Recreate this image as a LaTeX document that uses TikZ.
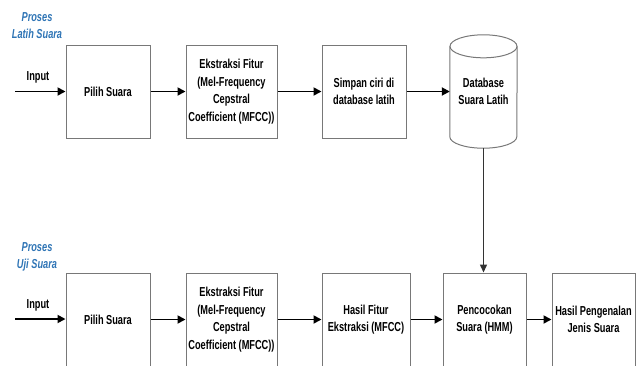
\documentclass[tikz,border=0pt]{standalone}
\usepackage{fontspec}
\setmainfont{Liberation Sans}[FakeStretch=0.71]
\usetikzlibrary{arrows.meta}
\definecolor{procblue}{RGB}{46,116,181}
\definecolor{edgegray}{RGB}{120,120,120}
\tikzset{
  boxfont/.style={font=\fontsize{13}{17.5}\selectfont\bfseries},
  block/.style={draw=edgegray, line width=1pt, fill=white, rectangle,
    minimum height=93pt, align=center, inner sep=2pt, boxfont},
  flow/.style={line width=1.8pt, -{Triangle[length=8pt,width=8pt]}},
  feed/.style={draw=black!80, line width=1.4pt, -{Triangle[length=8pt,width=7pt]}},
  plabel/.style={text=procblue, font=\fontsize{13}{17.5}\selectfont\bfseries\itshape, align=center},
  inlabel/.style={boxfont}
}
\begin{document}
\begin{tikzpicture}[x=1pt,y=-1pt]
  \useasboundingbox (0,0) rectangle (640,365);
  \clip (0,0) rectangle (640,365);

  % training process (top row)
  \node[plabel] (ptrain) at (37,25.5) {Proses\\Latih Suara};
  \node[inlabel] (intrain) at (38,77) {Input};
  \coordinate (srctrain) at (15,91.5);
  \node[block, minimum width=84pt] (pilih1) at (108,91.5) {Pilih Suara};
  \node[block, minimum width=91pt] (mfcc1) at (231.5,91.5)
    {Ekstraksi Fitur\\(Mel-Frequency\\Cepstral\\Coefficient (MFCC))};
  \node[block, minimum width=84pt] (simpan) at (364,91.5) {Simpan ciri di\\database latih};
  \node[minimum width=67pt, minimum height=113pt, inner sep=0pt, align=center,
        boxfont] (db) at (483.5,91.5)
    {Database\\Suara Latih};
  % cylinder outline of the database
  \draw[draw=edgegray, line width=1pt]
    ([yshift=-11.5pt]db.north west) -- ([yshift=11.5pt]db.south west)
    arc[start angle=180, end angle=360, x radius=33.5pt, y radius=11.5pt]
    -- ([yshift=-11.5pt]db.north east);
  \draw[draw=edgegray, line width=1pt]
    ([yshift=-11.5pt]db.north) ellipse[x radius=33.5pt, y radius=11.5pt];

  \draw[flow] (srctrain) -- (pilih1);
  \draw[flow] (pilih1) -- (mfcc1);
  \draw[flow] (mfcc1) -- (simpan);
  \draw[flow] (simpan) -- (db.west);

  % testing process (bottom row)
  \node[plabel] (ptest) at (37,257) {Proses\\Uji Suara};
  \node[inlabel] (intest) at (38,305) {Input};
  \coordinate (srctest) at (15,319);
  \node[block, minimum width=84pt] (pilih2) at (108,319.5) {Pilih Suara};
  \node[block, minimum width=91pt] (mfcc2) at (231.5,319.5)
    {Ekstraksi Fitur\\(Mel-Frequency\\Cepstral\\Coefficient (MFCC))};
  \node[block, minimum width=88pt] (hasil) at (366,319.5) {Hasil Fitur\\Ekstraksi (MFCC)};
  \node[block, minimum width=83pt] (cocok) at (484.5,319.5) {Pencocokan\\Suara (HMM)};
  \node[block, minimum width=83pt] (kenal) at (593.5,319.5) {Hasil Pengenalan\\Jenis Suara};

  \draw[flow] (srctest) -- (pilih2.west |- srctest);
  \draw[flow] (pilih2) -- (mfcc2);
  \draw[flow] (mfcc2) -- (hasil);
  \draw[flow] (hasil) -- (cocok);
  \draw[flow] (cocok) -- (kenal);

  % stored features feed the matching step
  \draw[feed] (db.south) -- (db.south |- cocok.north);
\end{tikzpicture}
\end{document}
